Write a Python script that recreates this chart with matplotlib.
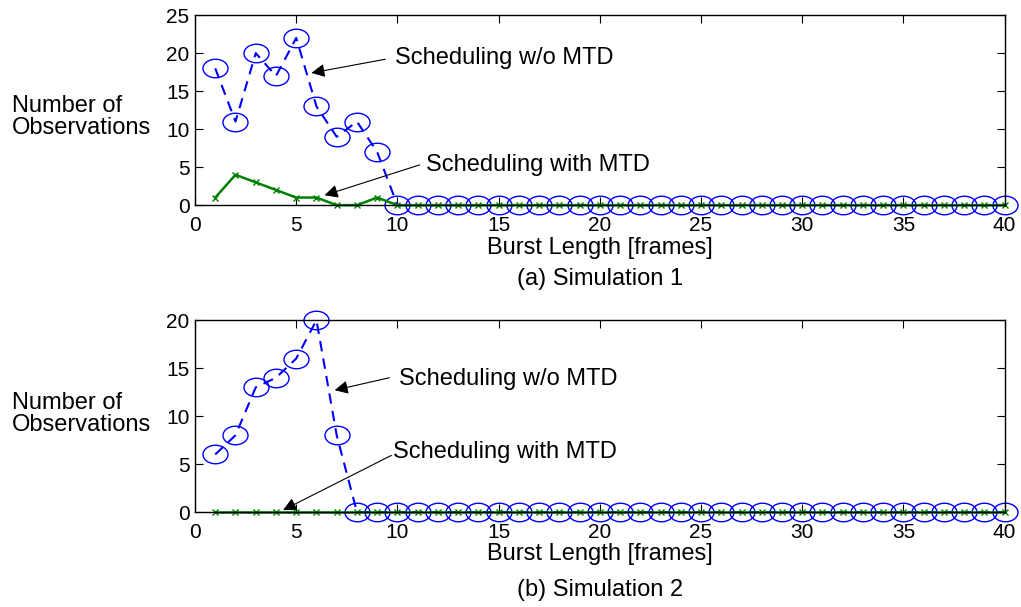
import numpy as np
import matplotlib
matplotlib.use('Agg')
import matplotlib.pyplot as plt
from matplotlib.path import Path
from matplotlib.transforms import Affine2D

plt.rcParams['font.family'] = ['Liberation Sans', 'DejaVu Sans']

burst = np.arange(1, 41)

# simulation 1
sim1_no_mtd = [18, 11, 20, 17, 22, 13, 9, 11, 7] + [0] * 31
sim1_mtd = [1, 4, 3, 2, 1, 1, 0, 0, 1] + [0] * 31
# simulation 2
sim2_no_mtd = [6, 8, 13, 14, 16, 20, 8] + [0] * 33
sim2_mtd = [0] * 40

captions = ['(a) Simulation 1', '(b) Simulation 2']
ymax = [25, 20]

# slightly wide circle marker
ellipse = Path.unit_circle().transformed(Affine2D().scale(1.35, 1.0))

fig = plt.figure(figsize=(10.21, 6.07), dpi=100)
ax1 = fig.add_axes([0.191, 0.662, 0.793, 0.313])
ax2 = fig.add_axes([0.191, 0.1565, 0.793, 0.316])

# label / caption offsets in axes coords
xlab_y = [-0.226, -0.218]
cap_y = [-0.387, -0.406]
ylab_y = [0.463, 0.51]

for i, (ax, blue, green) in enumerate(zip([ax1, ax2], [sim1_no_mtd, sim2_no_mtd],
                                          [sim1_mtd, sim2_mtd])):
    top = ymax[i]
    ax.plot(burst, blue, color='#0000ff', ls='--', lw=1.5, dashes=(5, 3.5),
            marker=ellipse, ms=18, mfc='none', mec='#0000ff', mew=1.0,
            zorder=3, clip_on=False)
    ax.plot(burst, green, color='#008000', ls='-', lw=1.8,
            marker='x', ms=5, mew=1.0, zorder=4, clip_on=False)
    ax.set_xlim(0, 40)
    ax.set_ylim(0, top)
    ax.set_xticks(range(0, 41, 5))
    ax.set_yticks(range(0, top + 1, 5))
    ax.tick_params(direction='in', top=True, right=True, length=6,
                   labelsize=15)
    ax.tick_params(axis='x', pad=8)
    ax.tick_params(axis='y', pad=4)
    for s in ax.spines.values():
        s.set_linewidth(1.0)
        s.set_zorder(5)
    ax.set_xlabel('Burst Length [frames]', fontsize=17, va='center')
    ax.xaxis.set_label_coords(0.5, xlab_y[i])
    ax.set_ylabel('Number of\nObservations', fontsize=17, rotation=0,
                  ha='left', va='center', multialignment='left',
                  linespacing=1.0)
    ax.yaxis.set_label_coords(-0.226, ylab_y[i])
    ax.text(0.5, cap_y[i], captions[i], transform=ax.transAxes, ha='center',
            va='center', fontsize=17)

arrow = dict(arrowstyle='-|>', color='k', lw=0.8, mutation_scale=20,
             shrinkA=0, shrinkB=0)

ax1.annotate('', xy=(5.75, 17.4), xytext=(9.4, 19.2), arrowprops=arrow)
ax1.text(9.9, 19.3, 'Scheduling w/o MTD', fontsize=17, va='center')
ax1.annotate('', xy=(6.4, 1.3), xytext=(11.1, 5.3), arrowprops=arrow)
ax1.text(11.4, 5.3, 'Scheduling with MTD', fontsize=17, va='center')

ax2.annotate('', xy=(6.9, 12.7), xytext=(9.6, 14.0), arrowprops=arrow)
ax2.text(10.1, 13.9, 'Scheduling w/o MTD', fontsize=17, va='center')
ax2.annotate('', xy=(4.35, 0.2), xytext=(9.7, 5.9), arrowprops=arrow)
ax2.text(9.8, 6.3, 'Scheduling with MTD', fontsize=17, va='center')

fig.savefig('out.png', dpi=100)
